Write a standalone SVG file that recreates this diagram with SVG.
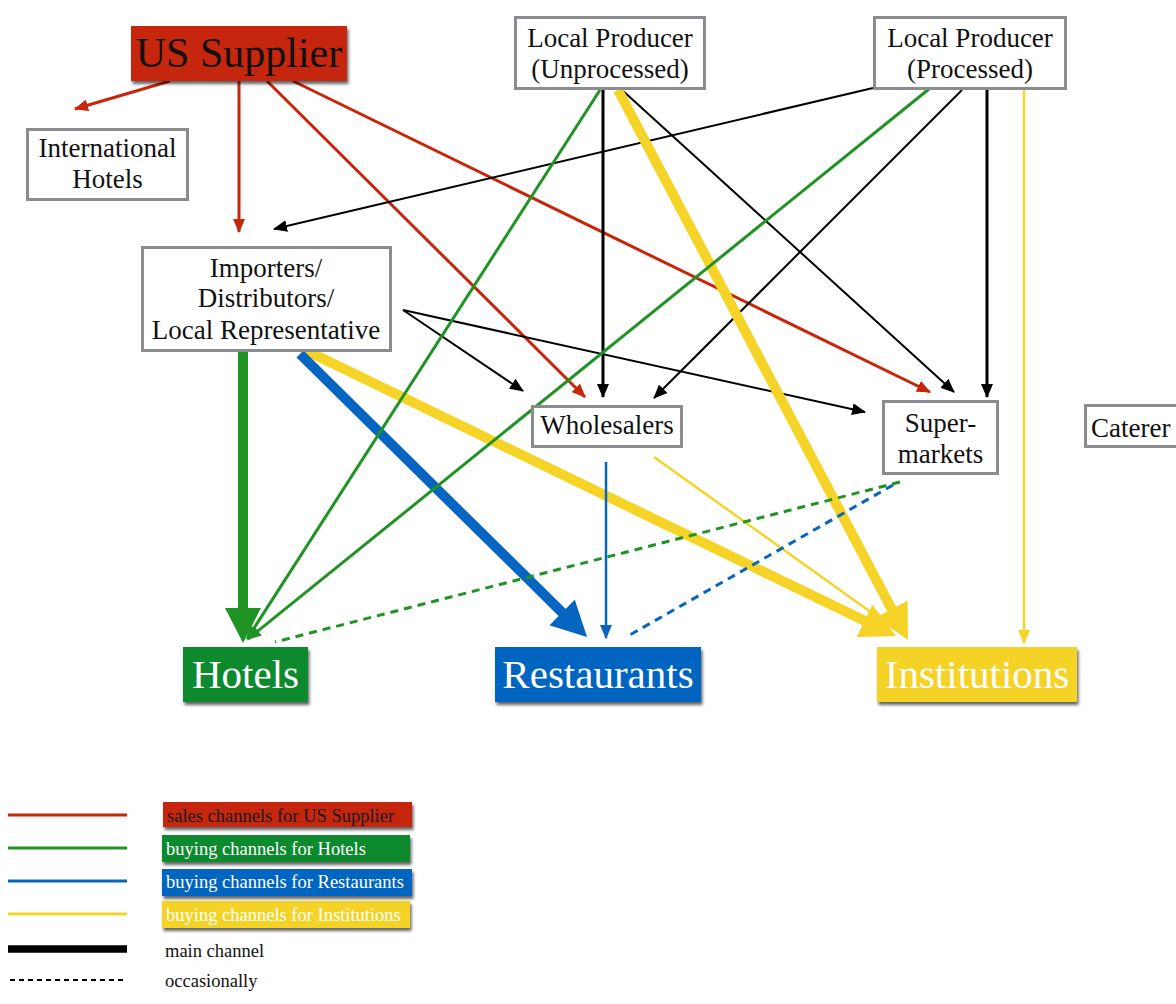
<svg xmlns="http://www.w3.org/2000/svg" width="1176" height="1004" viewBox="0 0 1176 1004">
<style>
text{font-family:"Liberation Serif","Times New Roman",serif;}
.box{fill:#fff;stroke:#8a8c90;stroke-width:3;}
.nt{font-size:27px;fill:#111;text-anchor:middle;}
.big{font-size:41px;fill:#fff;text-anchor:middle;}
.lg{font-size:18.5px;}
.r{stroke:#c8260a;stroke-width:3;fill:none;}
.k{stroke:#000;stroke-width:2;fill:none;}
.k3{stroke:#000;stroke-width:3;fill:none;}
.g{stroke:#1f9424;stroke-width:3;fill:none;}
.b{stroke:#0565c0;stroke-width:2.5;fill:none;}
.y{stroke:#f5d327;stroke-width:2.5;fill:none;}
.thick{stroke-width:10;}
.dash{stroke-dasharray:8 6;}
</style>
<defs>
<filter id="sh" x="-10%" y="-10%" width="130%" height="140%">
<feDropShadow dx="1.5" dy="3" stdDeviation="1.8" flood-color="#000" flood-opacity="0.6"/>
</filter>
<marker id="mr" markerUnits="userSpaceOnUse" markerWidth="14" markerHeight="12" refX="13" refY="6" orient="auto"><path d="M0,0 L14,6 L0,12 z" fill="#c8260a"/></marker>
<marker id="mk" markerUnits="userSpaceOnUse" markerWidth="14" markerHeight="12" refX="13" refY="6" orient="auto"><path d="M0,0 L14,6 L0,12 z" fill="#000"/></marker>
<marker id="mg" markerUnits="userSpaceOnUse" markerWidth="14" markerHeight="12" refX="13" refY="6" orient="auto"><path d="M0,0 L14,6 L0,12 z" fill="#1f9424"/></marker>
<marker id="mb" markerUnits="userSpaceOnUse" markerWidth="14" markerHeight="12" refX="13" refY="6" orient="auto"><path d="M0,0 L14,6 L0,12 z" fill="#0565c0"/></marker>
<marker id="my" markerUnits="userSpaceOnUse" markerWidth="14" markerHeight="12" refX="13" refY="6" orient="auto"><path d="M0,0 L14,6 L0,12 z" fill="#f5d327"/></marker>
<marker id="Mg" markerUnits="userSpaceOnUse" markerWidth="35" markerHeight="36" refX="23" refY="18" orient="auto"><path d="M0,0 L35,18 L0,36 z" fill="#1f9424"/></marker>
<marker id="Mb" markerUnits="userSpaceOnUse" markerWidth="35" markerHeight="36" refX="23" refY="18" orient="auto"><path d="M0,0 L35,18 L0,36 z" fill="#0565c0"/></marker>
<marker id="My" markerUnits="userSpaceOnUse" markerWidth="35" markerHeight="36" refX="23" refY="18" orient="auto"><path d="M0,0 L35,18 L0,36 z" fill="#f5d327"/></marker>
</defs>
<rect width="1176" height="1004" fill="#fff"/>

<g id="connectors">
<!-- red: sales channels for US Supplier -->
<line class="r" x1="170" y1="81" x2="75" y2="109" marker-end="url(#mr)"/>
<line class="r" x1="239" y1="81" x2="239" y2="232" marker-end="url(#mr)"/>
<line class="r" x1="267" y1="81" x2="585" y2="397" marker-end="url(#mr)"/>
<line class="r" x1="293" y1="81" x2="930" y2="392" marker-end="url(#mr)"/>
<!-- black -->
<line class="k" x1="873" y1="88" x2="274" y2="229" marker-end="url(#mk)"/>
<line class="k" x1="403" y1="310" x2="523" y2="391" marker-end="url(#mk)"/>
<line class="k" x1="403" y1="310" x2="865" y2="412" marker-end="url(#mk)"/>
<line class="k3" x1="603" y1="90" x2="603" y2="397" marker-end="url(#mk)"/>
<line class="k" x1="622" y1="90" x2="954" y2="392" marker-end="url(#mk)"/>
<line class="k" x1="962" y1="90" x2="654" y2="398" marker-end="url(#mk)"/>
<line class="k3" x1="987" y1="90" x2="987" y2="397" marker-end="url(#mk)"/>
<!-- yellow -->
<line class="y thick" x1="618" y1="90" x2="902.4" y2="629.4" marker-end="url(#My)"/>
<line class="y thick" x1="305" y1="350" x2="885.2" y2="630.8" marker-end="url(#My)"/>
<line class="y" x1="654" y1="457" x2="893" y2="628"/>
<line class="y" x1="1024" y1="90" x2="1024" y2="643" marker-end="url(#my)"/>
<!-- blue -->
<line class="b thick" x1="300" y1="354" x2="578.5" y2="628.6" marker-end="url(#Mb)"/>
<line class="b" x1="606" y1="462" x2="606" y2="638" marker-end="url(#mb)"/>
<line class="b dash" style="stroke-width:3" x1="893" y1="485" x2="628" y2="636"/>
<!-- green -->
<line class="g" x1="600" y1="90" x2="247" y2="639" marker-end="url(#mg)"/>
<line class="g" x1="929" y1="89" x2="248" y2="639" marker-end="url(#mg)"/>
<line class="g thick" x1="243" y1="352" x2="243" y2="631" marker-end="url(#Mg)"/>
<line class="g dash" x1="900" y1="482" x2="275" y2="642"/>
</g>

<g id="us-supplier">
<rect x="131" y="26" width="216" height="55" fill="#c52508" filter="url(#sh)"/>
<text x="239" y="67" font-size="42" fill="#111" text-anchor="middle">US Supplier</text>
</g>
<g id="international-hotels">
<rect class="box" x="27.5" y="129.5" width="160" height="70"/>
<text class="nt" x="107.5" y="157">International</text>
<text class="nt" x="107.5" y="188">Hotels</text>
</g>
<g id="local-producer-unprocessed">
<rect class="box" x="515.5" y="17.5" width="189" height="71"/>
<text class="nt" x="610" y="47">Local Producer</text>
<text class="nt" x="610" y="78">(Unprocessed)</text>
</g>
<g id="local-producer-processed">
<rect class="box" x="874.5" y="17.5" width="191" height="71"/>
<text class="nt" x="970" y="47">Local Producer</text>
<text class="nt" x="970" y="78">(Processed)</text>
</g>
<g id="importers">
<rect class="box" x="142.5" y="247.5" width="248" height="103"/>
<text class="nt" x="266" y="277">Importers/</text>
<text class="nt" x="266" y="307">Distributors/</text>
<text class="nt" x="266" y="339">Local Representative</text>
</g>
<g id="wholesalers">
<rect class="box" x="532.5" y="406.5" width="149" height="40"/>
<text class="nt" x="607" y="434">Wholesalers</text>
</g>
<g id="supermarkets">
<rect class="box" x="883.5" y="401.5" width="114" height="72"/>
<text class="nt" x="940.5" y="432">Super-</text>
<text class="nt" x="940.5" y="463">markets</text>
</g>
<g id="caterer">
<rect class="box" x="1085.5" y="405.5" width="100" height="41"/>
<text class="nt" x="1091" y="437" text-anchor="start" style="text-anchor:start">Caterer</text>
</g>
<g id="hotels">
<rect x="183" y="647" width="125" height="55" fill="#0b8a2e" filter="url(#sh)"/>
<text class="big" x="245.5" y="688">Hotels</text>
</g>
<g id="restaurants">
<rect x="495" y="647" width="206" height="55" fill="#0565c0" filter="url(#sh)"/>
<text class="big" x="598" y="688">Restaurants</text>
</g>
<g id="institutions">
<rect x="877" y="647" width="200" height="55" fill="#f5d327" filter="url(#sh)"/>
<text class="big" x="977" y="688">Institutions</text>
</g>

<g id="legend">
<line x1="8" y1="815" x2="127" y2="815" stroke="#c8260a" stroke-width="3"/>
<line x1="8" y1="848" x2="127" y2="848" stroke="#1f9424" stroke-width="3"/>
<line x1="8" y1="881" x2="127" y2="881" stroke="#0565c0" stroke-width="3"/>
<line x1="8" y1="914" x2="127" y2="914" stroke="#f5d327" stroke-width="3"/>
<line x1="8" y1="949" x2="127" y2="949" stroke="#000" stroke-width="7.5"/>
<line x1="10" y1="980" x2="127" y2="980" stroke="#000" stroke-width="2" stroke-dasharray="5 4"/>
<rect x="163" y="802" width="249" height="25" fill="#c52508" filter="url(#sh)"/>
<text class="lg" x="167" y="822" fill="#1a1a1a">sales channels for US Supplier</text>
<rect x="162" y="835" width="248" height="27" fill="#0b8a2e" filter="url(#sh)"/>
<text class="lg" x="166" y="855" fill="#fff">buying channels for Hotels</text>
<rect x="162" y="869" width="250" height="27" fill="#0565c0" filter="url(#sh)"/>
<text class="lg" x="166" y="888" fill="#fff">buying channels for Restaurants</text>
<rect x="162" y="901" width="248" height="27" fill="#f5d327" filter="url(#sh)"/>
<text class="lg" x="166" y="921" fill="#fff">buying channels for Institutions</text>
<text class="lg" x="165" y="957" fill="#111">main channel</text>
<text class="lg" x="165" y="987" fill="#111">occasionally</text>
</g>
</svg>
